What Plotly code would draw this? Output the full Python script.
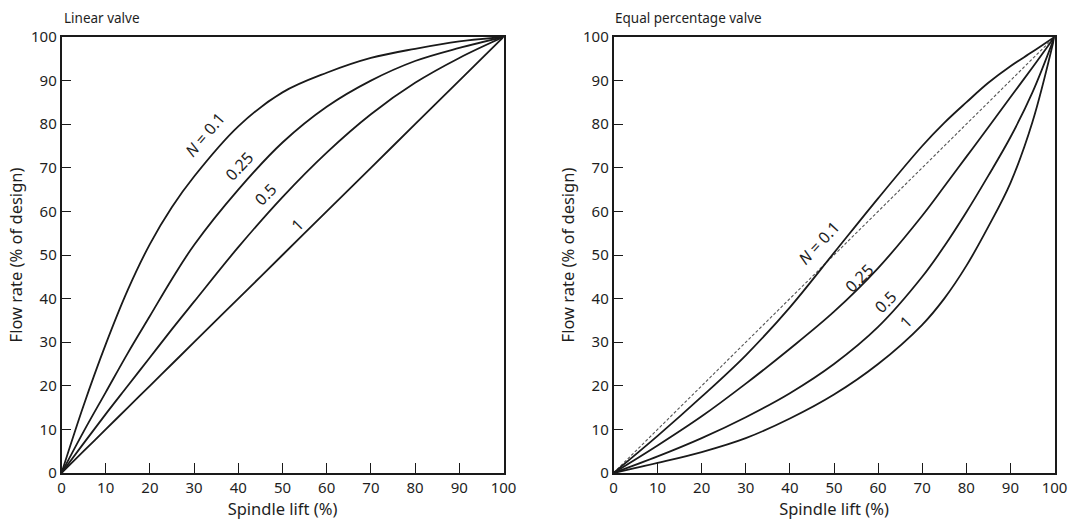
import plotly.graph_objects as go

# ---- data ----
lift_lin = [0, 5, 10, 15, 20, 25, 30, 40, 50, 60, 70, 80, 90, 100]
lin_n01 = [0, 15.5, 29.5, 42, 52.5, 61, 68, 79.5, 87.3, 91.8, 95.2, 97.3, 99, 100]
lin_n025 = [0, 9.5, 18.5, 27.5, 36, 44.5, 52.3, 65, 75.8, 84, 90, 94.5, 97.5, 100]
lin_n05 = [0, 6.8, 13.5, 20, 26.5, 33, 39.3, 51.8, 63.3, 73.5, 82.3, 89.5, 95.2, 100]
lin_n1 = [0, 5, 10, 15, 20, 25, 30, 40, 50, 60, 70, 80, 90, 100]

lift_eq = [0, 10, 20, 30, 40, 50, 60, 70, 75, 80, 85, 90, 95, 100]
eq_n01 = [0, 8.5, 17.5, 27, 38, 50.5, 63, 75, 80.3, 85, 89.5, 93.3, 96.6, 100]
eq_n025 = [0, 6.3, 13, 20.5, 28.5, 37, 47, 59, 65.7, 72.5, 79.3, 86.2, 93, 100]
eq_n05 = [0, 3.8, 8, 12.8, 18.3, 25, 33.5, 45, 52, 59.8, 68.2, 77, 87.3, 100]
eq_n1 = [0, 2.3, 4.8, 8, 12.5, 18, 25, 34, 40, 47.5, 56.5, 66.5, 80.5, 100]
diag_x = [0, 100]
diag_y = [0, 100]

ticks = [0, 10, 20, 30, 40, 50, 60, 70, 80, 90, 100]
panel_titles = ["Linear valve", "Equal percentage valve"]
x_title = "Spindle lift (%)"
y_title = "Flow rate (% of design)"

# curve labels: (text, x, y, angle)
lin_labels = [("<i>N</i> = 0.1", 32.3, 77.6, -50), ("0.25", 40.2, 70.5, -47),
              ("0.5", 46.2, 64.0, -45), ("1", 53.3, 56.8, -45)]
eq_labels = [("<i>N</i> = 0.1", 46.5, 52.8, -47), ("0.25", 55.7, 44.8, -45),
             ("0.5", 61.6, 39.3, -45), ("1", 66.2, 34.7, -45)]

FONT = "Noto Sans"
TXT = "#1e1e1e"
LINE = "#1a1a1a"

W, H = 1072, 526


def fx(px):
    return px / W


def fy(py):
    return 1 - py / H


fig = go.Figure()

for y in [lin_n01, lin_n025, lin_n05, lin_n1]:
    fig.add_trace(go.Scatter(x=lift_lin, y=y, mode="lines", xaxis="x", yaxis="y",
                             line=dict(color=LINE, width=1.8, shape="spline", smoothing=1.0),
                             showlegend=False, hoverinfo="skip"))

fig.add_trace(go.Scatter(x=diag_x, y=diag_y, mode="lines", xaxis="x2", yaxis="y2",
                         line=dict(color="#555555", width=1.1, dash="3px,2px"),
                         showlegend=False, hoverinfo="skip"))
for y in [eq_n01, eq_n025, eq_n05, eq_n1]:
    fig.add_trace(go.Scatter(x=lift_eq, y=y, mode="lines", xaxis="x2", yaxis="y2",
                             line=dict(color=LINE, width=1.8, shape="spline", smoothing=1.0),
                             showlegend=False, hoverinfo="skip"))

ax_common = dict(range=[0, 100], tickvals=ticks, ticktext=[str(t) for t in ticks],
                 ticks="inside", ticklen=10, tickwidth=1.2, tickcolor=LINE,
                 showline=True, linecolor=LINE, linewidth=1.5, mirror=True,
                 showgrid=False, zeroline=False, automargin=False,
                 ticklabeloverflow="allow",
                 tickfont=dict(family=FONT, size=15, color=TXT))

title_font = dict(family=FONT, size=16.5, color=TXT)
y_dom = [fy(473), fy(37)]
fig.update_layout(
    width=W, height=H,
    margin=dict(l=0, r=0, t=0, b=0),
    paper_bgcolor="white", plot_bgcolor="white",
    xaxis=dict(domain=[fx(61.5), fx(503.5)], anchor="y",
               title=dict(text=x_title, font=title_font, standoff=2), **ax_common),
    yaxis=dict(domain=y_dom, anchor="x",
               title=dict(text=y_title, font=title_font, standoff=4), **ax_common),
    xaxis2=dict(domain=[fx(613.5), fx(1054.5)], anchor="y2",
                title=dict(text=x_title, font=title_font, standoff=2), **ax_common),
    yaxis2=dict(domain=y_dom, anchor="x2",
                title=dict(text=y_title, font=title_font, standoff=4), **ax_common),
)

annotations = []
for (t, xx, yy, a) in lin_labels:
    annotations.append(dict(text=t, x=xx, y=yy, xref="x", yref="y", showarrow=False,
                            textangle=a, font=dict(family=FONT, size=16, color=TXT)))
for (t, xx, yy, a) in eq_labels:
    annotations.append(dict(text=t, x=xx, y=yy, xref="x2", yref="y2", showarrow=False,
                            textangle=a, font=dict(family=FONT, size=16, color=TXT)))
annotations.append(dict(text=panel_titles[0], x=fx(62), y=fy(18), xref="paper", yref="paper",
                        xanchor="left", yanchor="middle", showarrow=False,
                        font=dict(family=FONT, size=13.5, color=TXT)))
annotations.append(dict(text=panel_titles[1], x=fx(613), y=fy(18), xref="paper", yref="paper",
                        xanchor="left", yanchor="middle", showarrow=False,
                        font=dict(family=FONT, size=13.5, color=TXT)))
fig.update_layout(annotations=annotations)

# remove the page's default body margin so the figure fills the window exactly
fig.write_html("out.html",
               config={"displayModeBar": False},
               post_script="document.body.style.margin='0';document.body.style.overflow='hidden';")
